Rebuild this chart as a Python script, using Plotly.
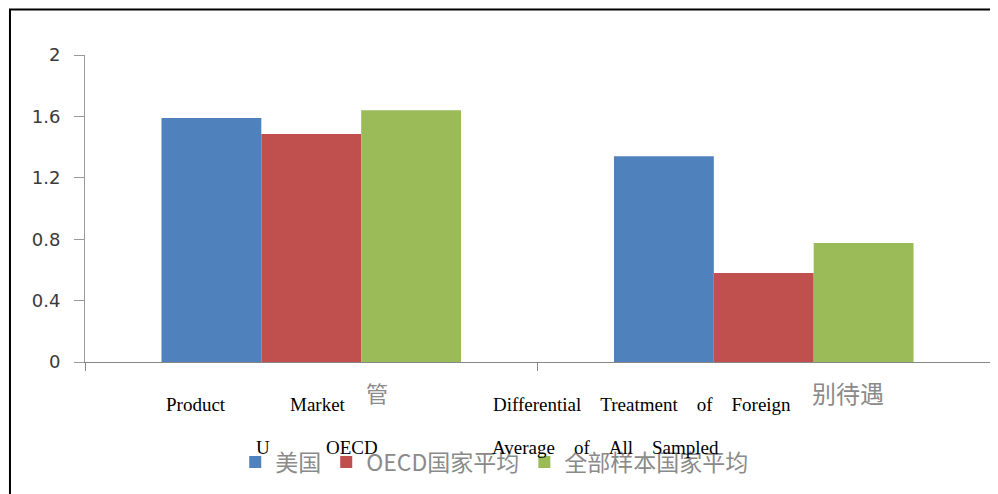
import plotly.graph_objects as go

categories = ["Product Market 管制", "Differential Treatment of Foreign 差别待遇"]
series_names = ["美国", "OECD国家平均", "全部样本国家平均"]
us_values = [1.59, 1.34]
oecd_values = [1.485, 0.58]
all_values = [1.64, 0.775]
colors = ["#4F81BD", "#C0504D", "#9BBB59"]
y_ticks = [0, 0.4, 0.8, 1.2, 1.6, 2]
y_tick_labels = ["0", "0.4", "0.8", "1.2", "1.6", "2"]

fig = go.Figure()
for name, vals, col in zip(series_names, [us_values, oecd_values, all_values], colors):
    fig.add_trace(go.Bar(x=categories, y=vals, name=name, marker_color=col,
                         marker_line_width=0))

fig.update_layout(
    width=998, height=494,
    margin=dict(l=77, r=16, t=47, b=140),
    plot_bgcolor="white", paper_bgcolor="white",
    barmode="group", bargap=0.338, bargroupgap=0,
    showlegend=True,
    legend=dict(orientation="h", x=0.166, xanchor="left", y=-0.326, yanchor="middle",
                font=dict(family="Noto Sans CJK SC", size=23, color="#8a8a8a"),
                bgcolor="rgba(0,0,0,0)", itemwidth=30, tracegroupgap=0),
    font=dict(family="DejaVu Sans"),
)
fig.update_xaxes(showticklabels=False, showline=True, linecolor="#868686", linewidth=1,
                 ticks="outside", tickcolor="#868686", ticklen=8,
                 tickson="boundaries", showgrid=False)
fig.update_yaxes(range=[0, 2], tickvals=y_ticks, ticktext=y_tick_labels,
                 showline=True, linecolor="#9a9a9a", linewidth=1,
                 ticks="outside", tickcolor="#9a9a9a", ticklen=10,
                 ticklabelstandoff=10,
                 showgrid=False, zeroline=False,
                 tickfont=dict(family="DejaVu Sans", size=18, color="#3a3a3a"))

# outer frame
fig.add_shape(type="rect", xref="paper", yref="paper",
              x0=-0.0829, x1=1.03, y0=-0.6, y1=1.148,
              line=dict(color="black", width=2), fillcolor="rgba(0,0,0,0)")

serif = dict(family="Liberation Serif", size=19, color="black")
cjk = dict(family="Noto Sans CJK SC", size=22, color="#8a8a8a")
cjk2 = dict(family="Noto Sans CJK SC", size=24, color="#8a8a8a")
sp4 = "&nbsp;" * 4
ann = [
    ("Product", 0.123, -0.137, serif),
    ("Market", 0.258, -0.137, serif),
    ("管", 0.323, -0.098, cjk),
    (sp4.join(["Differential", "Treatment", "of", "Foreign"]), 0.615, -0.137, serif),
    ("别待遇", 0.843, -0.098, cjk2),
    ("U", 0.197, -0.277, serif),
    ("OECD", 0.295, -0.277, serif),
    (sp4.join(["Average", "of", "All", "Sampled"]), 0.575, -0.277, serif),
]
for t, x, y, f in ann:
    fig.add_annotation(text=t, x=x, y=y, xref="paper", yref="paper",
                       showarrow=False, font=f, xanchor="center", yanchor="middle")

fig.write_html("out.html")
